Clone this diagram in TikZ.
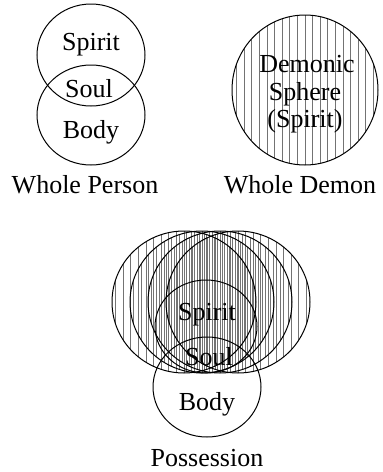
\documentclass[tikz,border=0pt]{standalone}
\usepackage{fontspec}
\setmainfont{Liberation Serif}
\begin{document}
\begin{tikzpicture}[x=1pt,y=-1pt,
  lbl/.style={font=\fontsize{26}{29}\selectfont, anchor=base, inner sep=0pt},
  hatch/.style={draw=black!55, line width=1pt},
  outline/.style={draw=black, line width=1pt}]
\useasboundingbox (0,0) rectangle (383,472);

% ---------- Whole Person ----------
\draw[outline] (91,55) ellipse [x radius=54, y radius=51];
\draw[outline] (91,115) ellipse [x radius=54, y radius=50];
\node[lbl] (pspirit) at (91,50) {Spirit};
\node[lbl] (psoul) at (89,97) {Soul};
\node[lbl] (pbody) at (91,138) {Body};
\node[lbl] (wperson) at (85,193) {Whole Person};

% ---------- Whole Demon ----------
\begin{scope}
  \clip (305,90) ellipse [x radius=73, y radius=75];
  \foreach \i in {-10,...,10} \draw[hatch] (305+\i*7.6,10) -- (305+\i*7.6,170);
\end{scope}
\draw[outline] (305,90) ellipse [x radius=73, y radius=75];
\node[lbl] (dem1) at (307,72) {Demonic};
\node[lbl] (dem2) at (305,100) {Sphere};
\node[lbl] (dem3) at (305,127) {(Spirit)};
\node[lbl] (wdemon) at (300,193) {Whole Demon};

% ---------- Possession ----------
\foreach \c in {184,202,220,238} {
  \begin{scope}
    \clip (\c,302) ellipse [x radius=72, y radius=71];
    \foreach \i in {-10,...,10} \draw[hatch] (\c+\i*7.6,225) -- (\c+\i*7.6,380);
  \end{scope}
}
\foreach \c in {184,202,220,238}
  \draw[outline] (\c,302) ellipse [x radius=72, y radius=71];
\draw[outline] (206,326.5) ellipse [x radius=51, y radius=46.5];
\draw[outline] (207,387) ellipse [x radius=54, y radius=50];
\node[lbl] (xspirit) at (207,320) {Spirit};
\node[lbl] (xsoul) at (209,365) {Soul};
\node[lbl] (xbody) at (207,410) {Body};
\node[lbl] (poss) at (207,466) {Possession};
\end{tikzpicture}
\end{document}
